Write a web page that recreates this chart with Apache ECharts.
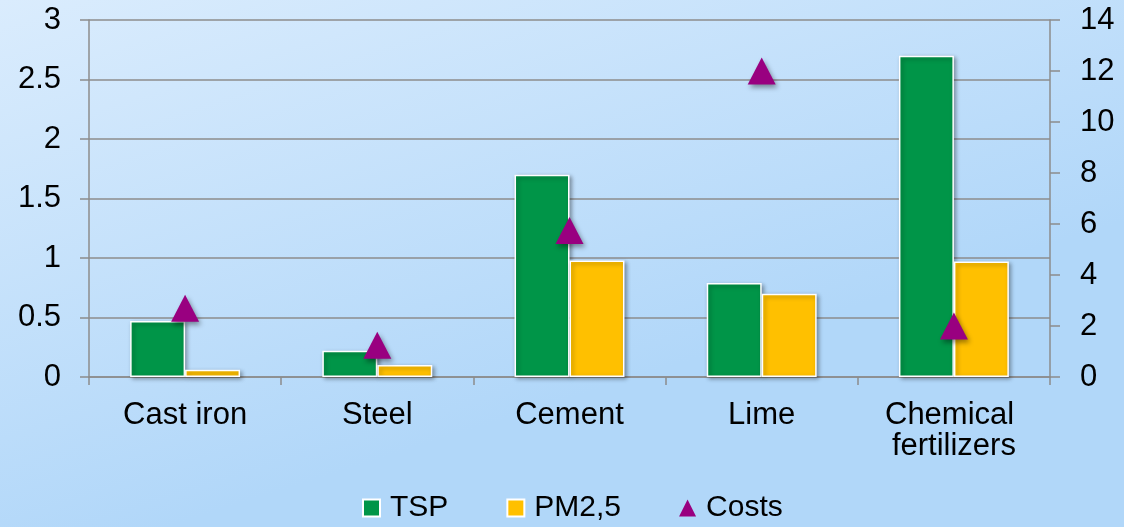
<!DOCTYPE html>
<html>
<head>
<meta charset="utf-8">
<style>
  html, body { margin: 0; padding: 0; }
  #chart { width: 1124px; height: 527px; }
</style>
<script src="https://cdn.jsdelivr.net/npm/echarts@6/dist/echarts.min.js"></script>
</head>
<body>
<div id="chart"></div>
<script>
// Emission sources along the x axis
const categories = ['Cast iron', 'Steel', 'Cement', 'Lime', 'Chemical fertilizers'];
// Particulate emissions (left axis)
const tspValues = [0.47, 0.22, 1.70, 0.79, 2.70];
const pm25Values = [0.06, 0.10, 0.98, 0.70, 0.97];
// Costs (right axis)
const costValues = [2.7, 1.25, 5.75, 12.0, 2.0];
// Tick settings for both value axes
const leftTicks = { min: 0, max: 3, interval: 0.5 };
const rightTicks = { min: 0, max: 14, interval: 2 };

const FONT = 'Liberation Sans, Arial, sans-serif';
const GRID_GRAY = '#8c8c8c';

const chart = echarts.init(document.getElementById('chart'), null, { renderer: 'canvas' });

const barStyle = (color) => ({
  color: color,
  borderColor: '#ffffff',
  borderWidth: 1.5,
  shadowColor: 'rgba(0,0,0,0.35)',
  shadowBlur: 4,
  shadowOffsetX: 2,
  shadowOffsetY: 2
});

chart.setOption({
  animation: false,
  backgroundColor: {
    type: 'linear', x: 0, y: 0, x2: 0.15, y2: 1,
    colorStops: [
      { offset: 0, color: '#DAECFD' },
      { offset: 1, color: '#B1D7F9' }
    ]
  },
  textStyle: { fontFamily: FONT },
  grid: { left: 89, right: 74, top: 20, bottom: 150, containLabel: false },
  legend: {
    left: 357,
    top: 488,
    itemWidth: 17,
    itemHeight: 17,
    itemGap: 58,
    textStyle: { fontFamily: FONT, fontSize: 30, color: '#000', padding: [0, 0, 0, 5] },
    data: [
      { name: 'TSP', icon: 'rect' },
      { name: 'PM2,5', icon: 'rect' },
      { name: 'Costs', icon: 'triangle' }
    ]
  },
  xAxis: {
    type: 'category',
    data: categories,
    axisLine: { lineStyle: { color: GRID_GRAY, width: 1.5 } },
    axisTick: { show: true, length: 8, lineStyle: { color: GRID_GRAY, width: 1.5 } },
    axisLabel: {
      interval: 0,
      margin: 23,
      color: '#000',
      fontFamily: FONT,
      fontSize: 31,
      lineHeight: 31,
      width: 185,
      overflow: 'break'
    }
  },
  yAxis: [
    {
      type: 'value',
      position: 'left',
      min: leftTicks.min,
      max: leftTicks.max,
      interval: leftTicks.interval,
      axisLine: { show: true, lineStyle: { color: GRID_GRAY, width: 1.5 } },
      axisTick: { show: true, length: 9, lineStyle: { color: GRID_GRAY, width: 1.5 } },
      splitLine: { show: true, lineStyle: { color: GRID_GRAY, width: 1.5 } },
      axisLabel: { margin: 28, color: '#000', fontFamily: FONT, fontSize: 31 }
    },
    {
      type: 'value',
      position: 'right',
      min: rightTicks.min,
      max: rightTicks.max,
      interval: rightTicks.interval,
      axisLine: { show: true, lineStyle: { color: GRID_GRAY, width: 1.5 } },
      axisTick: { show: true, length: 10, lineStyle: { color: GRID_GRAY, width: 1.5 } },
      splitLine: { show: false },
      axisLabel: { margin: 30, color: '#000', fontFamily: FONT, fontSize: 31 }
    }
  ],
  series: [
    {
      name: 'TSP',
      type: 'bar',
      yAxisIndex: 0,
      data: tspValues,
      barGap: '0%',
      barCategoryGap: '42.8%',
      itemStyle: barStyle('#009548')
    },
    {
      name: 'PM2,5',
      type: 'bar',
      yAxisIndex: 0,
      data: pm25Values,
      barGap: '0%',
      barCategoryGap: '42.8%',
      itemStyle: barStyle('#FFC000')
    },
    {
      name: 'Costs',
      type: 'scatter',
      yAxisIndex: 1,
      data: costValues,
      symbol: 'triangle',
      symbolSize: [28, 27],
      z: 5,
      itemStyle: {
        color: '#990080',
        opacity: 1,
        shadowColor: 'rgba(0,0,0,0.4)',
        shadowBlur: 5,
        shadowOffsetX: 2,
        shadowOffsetY: 3
      }
    }
  ]
});
</script>
</body>
</html>
